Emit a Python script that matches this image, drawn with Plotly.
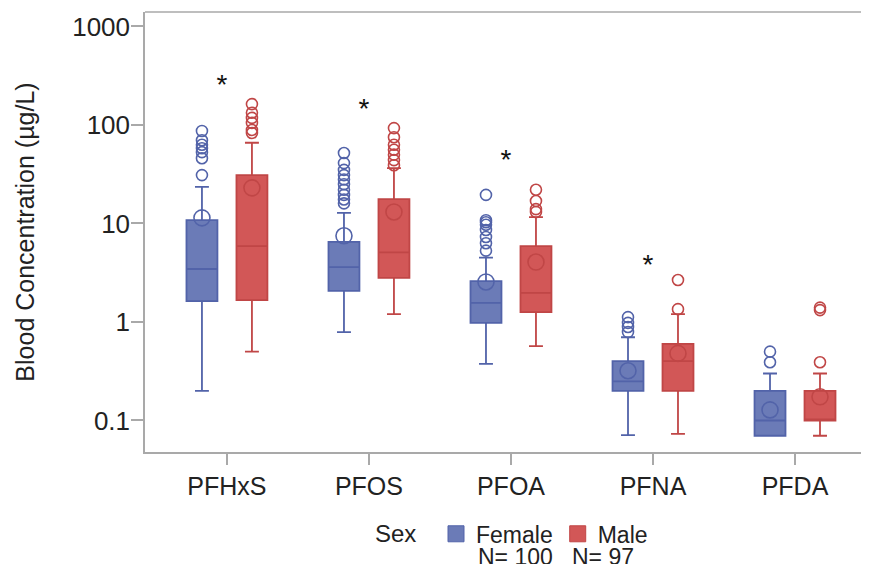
import plotly.graph_objects as go

compounds = ["PFHxS", "PFOS", "PFOA", "PFNA", "PFDA"]

# Female box statistics (µg/L)
f_q1 = [1.63, 2.07, 0.98, 0.20, 0.07]
f_median = [3.45, 3.6, 1.56, 0.25, 0.10]
f_q3 = [10.8, 6.5, 2.6, 0.40, 0.20]
f_low = [0.20, 0.79, 0.375, 0.071, 0.07]
f_high = [23.5, 12.8, 4.5, 0.70, 0.30]
f_mean = [11.4, 7.5, 2.55, 0.32, 0.128]
f_outliers = [
    [87, 70, 63, 58, 53, 46, 31],
    [52, 41, 35, 31, 28, 25, 22, 19.5, 17.5, 16],
    [19.5, 10.8, 10.3, 9.7, 8.6, 7.3, 6.3, 5.3],
    [1.12, 0.98, 0.89, 0.79],
    [0.50, 0.39],
]

# Male box statistics (µg/L)
m_q1 = [1.67, 2.8, 1.26, 0.20, 0.10]
m_median = [5.9, 5.1, 1.97, 0.40, 0.10]
m_q3 = [31, 17.7, 5.9, 0.60, 0.20]
m_low = [0.50, 1.2, 0.57, 0.073, 0.07]
m_high = [66, 36.5, 11.6, 1.2, 0.30]
m_mean = [23, 13.1, 4.06, 0.48, 0.174]
m_outliers = [
    [163, 133, 118, 105, 89, 83],
    [93, 75, 63, 56, 50, 44, 39],
    [22, 16.9, 14, 13.1],
    [2.67, 1.35],
    [1.4, 1.32, 0.39],
]

# significance markers
sig_compounds = ["PFHxS", "PFOS", "PFOA", "PFNA"]
sig_values = [243, 139, 42, 3.6]

n_female = 100
n_male = 97

F_FILL, F_LINE = "#6B7BB7", "#5263A9"
M_FILL, M_LINE = "#D25757", "#C04646"
FONT = "Liberation Sans, Arial, sans-serif"
AXC = "#A9A9A9"

OFF = 0.176
BW = 0.218

idx = {c: i for i, c in enumerate(compounds)}
fx = [i - OFF for i in range(len(compounds))]
mx = [i + OFF for i in range(len(compounds))]

fig = go.Figure()

fig.add_trace(go.Box(
    x=fx, q1=f_q1, median=f_median, q3=f_q3, lowerfence=f_low, upperfence=f_high,
    width=BW, fillcolor=F_FILL, line=dict(color=F_LINE, width=1.8),
    boxpoints=False, showlegend=False, name="Female", whiskerwidth=0.45))
fig.add_trace(go.Box(
    x=mx, q1=m_q1, median=m_median, q3=m_q3, lowerfence=m_low, upperfence=m_high,
    width=BW, fillcolor=M_FILL, line=dict(color=M_LINE, width=1.8),
    boxpoints=False, showlegend=False, name="Male", whiskerwidth=0.45))

# outliers
fox, foy, mox, moy = [], [], [], []
for i, vals in enumerate(f_outliers):
    fox += [fx[i]] * len(vals)
    foy += vals
for i, vals in enumerate(m_outliers):
    mox += [mx[i]] * len(vals)
    moy += vals
fig.add_trace(go.Scatter(x=fox, y=foy, mode="markers", showlegend=False,
                         marker=dict(symbol="circle-open", size=11, color=F_LINE, line=dict(width=1.6))))
fig.add_trace(go.Scatter(x=mox, y=moy, mode="markers", showlegend=False,
                         marker=dict(symbol="circle-open", size=11, color=M_LINE, line=dict(width=1.6))))
# means
fig.add_trace(go.Scatter(x=fx, y=f_mean, mode="markers", showlegend=False,
                         marker=dict(symbol="circle-open", size=16, color=F_LINE, line=dict(width=1.6))))
fig.add_trace(go.Scatter(x=mx, y=m_mean, mode="markers", showlegend=False,
                         marker=dict(symbol="circle-open", size=16, color=M_LINE, line=dict(width=1.6))))

# asterisks
fig.add_trace(go.Scatter(x=[idx[c] - 0.035 for c in sig_compounds], y=sig_values, mode="text",
                         text=["*"] * len(sig_compounds), textposition="middle center",
                         textfont=dict(size=28, color="#111", family=FONT), showlegend=False))

# legend entries
fig.add_trace(go.Scatter(x=[None], y=[None], mode="markers", name="Female",
                         marker=dict(symbol="square", size=18, color=F_FILL, line=dict(color=F_LINE, width=1))))
fig.add_trace(go.Scatter(x=[None], y=[None], mode="markers", name="Male",
                         marker=dict(symbol="square", size=18, color=M_FILL, line=dict(color=M_LINE, width=1))))

# page body has an 8px margin: size the figure to fit the window exactly
fig.update_layout(
    width=861, height=556,
    margin=dict(l=137, r=0, t=4, b=112, autoexpand=False),
    paper_bgcolor="white", plot_bgcolor="white",
    font=dict(family=FONT, size=23, color="#222"),
    showlegend=True,
    legend=dict(orientation="h", x=(436 - 145) / 724, xanchor="left", y=-0.186, yanchor="middle",
                font=dict(size=23), itemclick=False, bgcolor="rgba(0,0,0,0)"),
    xaxis=dict(range=[-0.577, 4.521], tickmode="array", tickvals=list(range(len(compounds))),
               ticktext=compounds, showline=True, linecolor=AXC, linewidth=1.5,
               ticks="outside", ticklen=11, tickcolor=AXC, tickwidth=1.5,
               showgrid=False, zeroline=False, tickfont=dict(size=25)),
    yaxis=dict(type="log", range=[-1.32, 3.147], tickmode="array",
               tickvals=[0.1, 1, 10, 100, 1000], ticktext=["0.1", "1", "10", "100", "1000"],
               showline=True, linecolor=AXC, linewidth=1.5, ticks="outside", ticklen=12,
               tickcolor=AXC, tickwidth=1.5, showgrid=False, zeroline=False,
               tickfont=dict(size=26), ticklabelstandoff=-4,
               title=dict(text="Blood Concentration (µg/L)", font=dict(size=25), standoff=30)),
    shapes=[dict(type="line", xref="paper", yref="paper", x0=0, x1=1, y0=1, y1=1,
                 line=dict(color=AXC, width=1.5))],
    annotations=[
        dict(text="Sex", xref="paper", yref="paper", x=(373 - 145) / 724, y=-0.186,
             xanchor="left", yanchor="middle", showarrow=False, font=dict(size=24)),
        dict(text=f"N= {n_female}", xref="paper", yref="paper", x=(476 - 145) / 724, y=-0.238,
             xanchor="left", yanchor="middle", showarrow=False, font=dict(size=23)),
        dict(text=f"N= {n_male}", xref="paper", yref="paper", x=(570 - 145) / 724, y=-0.238,
             xanchor="left", yanchor="middle", showarrow=False, font=dict(size=23)),
    ],
)

fig.write_html("out.html")
